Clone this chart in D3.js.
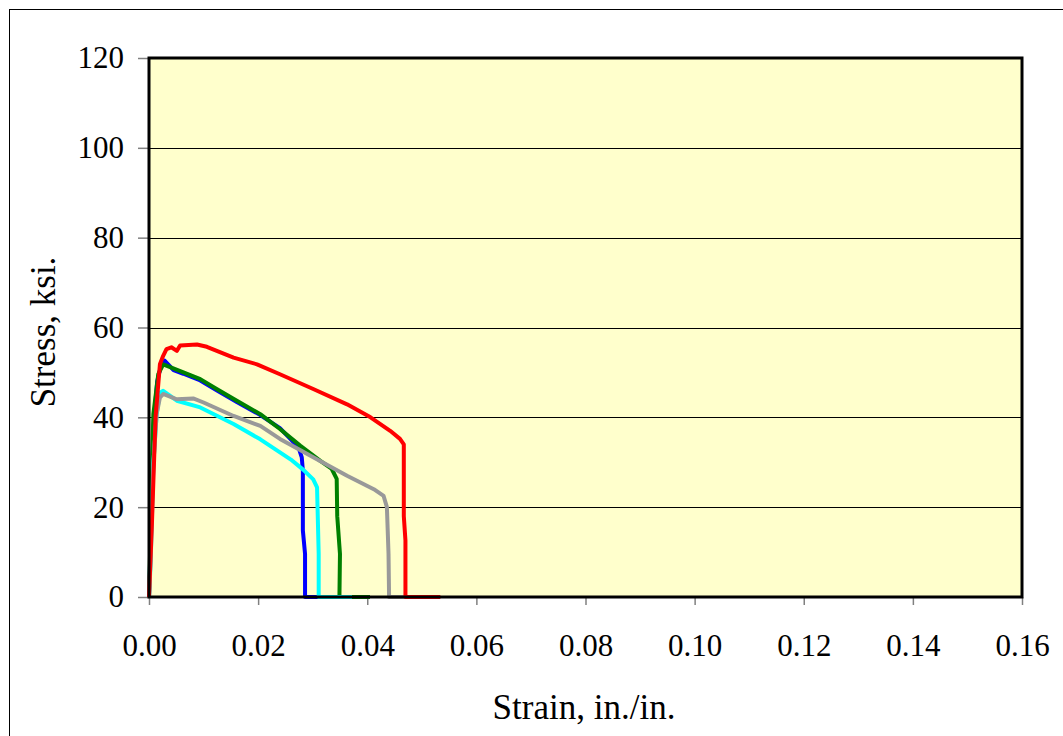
<!DOCTYPE html>
<html>
<head>
<meta charset="utf-8">
<script src="https://cdn.jsdelivr.net/npm/d3@7"></script>
<style>
  body { margin: 0; background: #fff; }
  svg { display: block; }
</style>
</head>
<body>
<div id="chart"></div>
<script>
const xTicks = [0, 0.02, 0.04, 0.06, 0.08, 0.10, 0.12, 0.14, 0.16];
const yTicks = [0, 20, 40, 60, 80, 100, 120];

// [strain, stress] pairs
const blueData = [[0,0],[0.0003,12],[0.0008,38],[0.0015,48],[0.0022,51.5],[0.0029,52.6],[0.0045,50.5],[0.0063,49.7],[0.0094,48.2],[0.0124,46],[0.0161,43.4],[0.0204,40.5],[0.0240,37.6],[0.0274,33.3],[0.0280,31.1],[0.0282,28.1],[0.0282,14.8],[0.0286,9.6],[0.0286,0],[0.0310,0]];
const greenData = [[0,0],[0.0003,15],[0.0008,40.7],[0.0017,49.6],[0.0026,51.8],[0.0063,50],[0.0094,48.5],[0.0124,46.3],[0.0161,43.7],[0.0204,40.7],[0.0240,37.4],[0.0277,33.7],[0.0314,30.3],[0.0335,28.5],[0.0344,26.3],[0.0345,18],[0.0350,9.6],[0.0349,0],[0.0405,0]];
const cyanData = [[0,0],[0.0003,7.4],[0.0008,29.6],[0.0014,40.7],[0.0020,45.5],[0.0026,45.9],[0.0051,43.7],[0.0094,42.2],[0.0155,38.5],[0.0204,35.1],[0.0240,32.2],[0.0260,30.6],[0.0283,28.3],[0.0301,26.2],[0.0308,24.4],[0.0311,9.6],[0.0311,0],[0.0372,0]];
const greyData = [[0,0],[0.0002,6],[0.0004,14.8],[0.0008,29.6],[0.0014,40.7],[0.0020,44.4],[0.0026,45.2],[0.0051,44],[0.0081,44.2],[0.0100,43.3],[0.0155,40.3],[0.0204,38.1],[0.0240,35.2],[0.0301,31.1],[0.0363,27],[0.0412,24],[0.0430,22.5],[0.0436,20],[0.0439,9.6],[0.0440,0],[0.0497,0]];
const redData = [[0,0],[0.0005,15],[0.0012,40],[0.0020,51.8],[0.0026,53.7],[0.0032,55.2],[0.0041,55.6],[0.0051,54.8],[0.0057,56],[0.0088,56.2],[0.0106,55.7],[0.0155,53.3],[0.0198,51.8],[0.0240,49.6],[0.0301,46.3],[0.0363,42.9],[0.0406,40],[0.0442,37],[0.0460,35.2],[0.0467,34],[0.0467,18],[0.0470,12.6],[0.0470,0],[0.0534,0]];

const seriesList = [
  { data: blueData, color: "#0000ff" },
  { data: greenData, color: "#008000" },
  { data: cyanData, color: "#00ffff" },
  { data: greyData, color: "#999999" },
  { data: redData, color: "#ff0000" }
];

const width = 1063, height = 736;
const margin = { left: 149, top: 58, right: 1063 - 1022, bottom: 736 - 597 };
const plotW = width - margin.left - margin.right;
const plotH = height - margin.top - margin.bottom;
const serif = "'Liberation Serif', 'Times New Roman', serif";

const svg = d3.select("#chart").append("svg")
  .attr("width", width)
  .attr("height", height);

// outer chart frame
svg.append("rect")
  .attr("x", 9.5).attr("y", 9.5)
  .attr("width", 1080).attr("height", 760)
  .attr("fill", "none")
  .attr("stroke", "#000")
  .attr("stroke-width", 1);

const x = d3.scaleLinear().domain([0, 0.16]).range([0, plotW]);
const y = d3.scaleLinear().domain([0, 120]).range([plotH, 0]);

const g = svg.append("g").attr("transform", `translate(${margin.left},${margin.top})`);

g.append("rect")
  .attr("width", plotW).attr("height", plotH)
  .attr("fill", "#ffffcc");

// gridlines
g.selectAll(".grid")
  .data(yTicks.filter(d => d > 0 && d < 120))
  .enter().append("line")
  .attr("x1", 0).attr("x2", plotW)
  .attr("y1", d => Math.round(y(d)) + 0.5).attr("y2", d => Math.round(y(d)) + 0.5)
  .attr("stroke", "#000")
  .attr("stroke-width", 1);

// axes
const xAxis = g.append("g")
  .attr("transform", `translate(0,${plotH})`)
  .call(d3.axisBottom(x).tickValues(xTicks).tickFormat(d3.format(".2f")).tickSize(8).tickPadding(29));
const yAxis = g.append("g")
  .call(d3.axisLeft(y).tickValues(yTicks).tickSize(11).tickPadding(14));

[xAxis, yAxis].forEach(ax => {
  ax.select(".domain").remove();
  ax.selectAll("line").attr("stroke", "#808080").attr("stroke-width", 1.5);
  ax.selectAll("text")
    .attr("fill", "#000")
    .style("font-family", serif)
    .style("font-size", "31px");
});

// series lines
const line = d3.line().x(d => x(d[0])).y(d => y(d[1]));
seriesList.forEach(s => {
  g.append("path")
    .datum(s.data)
    .attr("d", line)
    .attr("fill", "none")
    .attr("stroke", s.color)
    .attr("stroke-width", 4)
    .attr("stroke-linejoin", "round");
});

// plot border
g.append("rect")
  .attr("width", plotW).attr("height", plotH)
  .attr("fill", "none")
  .attr("stroke", "#000")
  .attr("stroke-width", 3);

// axis titles
svg.append("text")
  .attr("x", 584)
  .attr("y", 719)
  .attr("text-anchor", "middle")
  .style("font-family", serif)
  .style("font-size", "35px")
  .text("Strain, in./in.");

svg.append("text")
  .attr("transform", "translate(55,332) rotate(-90)")
  .attr("text-anchor", "middle")
  .style("font-family", serif)
  .style("font-size", "35px")
  .text("Stress, ksi.");
</script>
</body>
</html>
